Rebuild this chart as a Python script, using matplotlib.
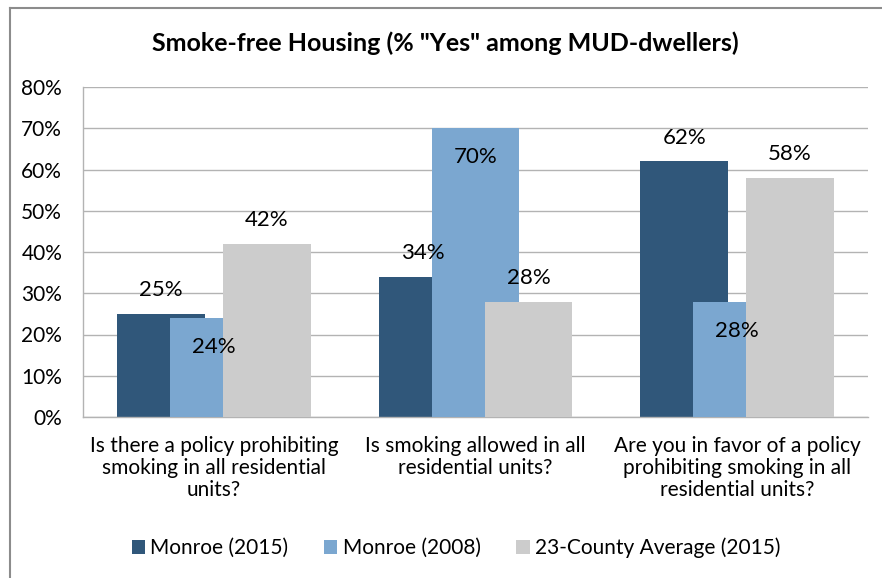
import numpy as np
import matplotlib
matplotlib.use("Agg")
import matplotlib.pyplot as plt
from matplotlib.lines import Line2D
from matplotlib.patches import Patch

plt.rcParams['font.family'] = ['Lato', 'DejaVu Sans']

# data
categories = [
    "Is there a policy prohibiting\nsmoking in all residential\nunits?",
    "Is smoking allowed in all\nresidential units?",
    "Are you in favor of a policy\nprohibiting smoking in all\nresidential units?",
]
series_names = ["Monroe (2015)", "Monroe (2008)", "23-County Average (2015)"]
monroe_2015 = [25, 34, 62]
monroe_2008 = [24, 70, 28]
county_avg_2015 = [42, 28, 58]
yticks = [0, 10, 20, 30, 40, 50, 60, 70, 80]

colors = ["#30577a", "#7ba7d0", "#cccccc"]
label_inside = [False, True, False]

fig = plt.figure(figsize=(8.82, 5.78), dpi=100)
ax = fig.add_axes([83/882, 1-417/578, 785/882, 330/578])

x = np.arange(len(categories))
width = 0.336
step = 0.2025
for i, (vals, name) in enumerate(zip([monroe_2015, monroe_2008, county_avg_2015], series_names)):
    pos = x + (i - 1) * step
    ax.bar(pos, vals, width=width, color=colors[i], zorder=2 + i, label=name)
    for p, v in zip(pos, vals):
        off = -21 if label_inside[i] else 17
        ax.annotate(f"{v}%", (p, v), xytext=(0, off), textcoords="offset points",
                    ha="center", va="center", fontsize=16, color="black", zorder=10)

ax.set_xlim(-0.5, 2.5)
ax.set_ylim(0, 80)
ax.set_yticks(yticks)
ax.set_yticklabels([f"{t}%" for t in yticks], fontsize=15)
ax.set_xticks(x)
ax.set_xticklabels(categories, fontsize=15, linespacing=1.1, va="top")
ax.tick_params(axis="y", length=0, pad=15)
ax.tick_params(axis="x", length=0, pad=14)
ax.yaxis.grid(True, color="#b3b3b3", linewidth=1, zorder=0)
ax.set_axisbelow(True)
for s in ["top", "right"]:
    ax.spines[s].set_visible(False)
for s in ["left", "bottom"]:
    ax.spines[s].set_color("#b3b3b3")
    ax.spines[s].set_linewidth(1)

fig.text(0.505, 1 - 43/578, 'Smoke-free Housing (% "Yes" among MUD-dwellers)',
         ha="center", va="center", fontsize=18, fontweight="bold")

handles = [Patch(facecolor=c, edgecolor="none") for c in colors]
fig.legend(handles, series_names, loc="center", bbox_to_anchor=(456/882, 1 - 548/578),
           ncol=3, frameon=False, fontsize=15, handlelength=0.65, handleheight=0.65,
           handletextpad=0.25, columnspacing=1.7)

# chart frame (left and top edges)
fig.add_artist(Line2D([10/882, 10/882], [0, 1 - 8/578], transform=fig.transFigure,
                      color="#8c8c8c", linewidth=1.5))
fig.add_artist(Line2D([10/882, 1], [1 - 8/578, 1 - 8/578], transform=fig.transFigure,
                      color="#8c8c8c", linewidth=1.5))

fig.savefig("out.png", dpi=100)
